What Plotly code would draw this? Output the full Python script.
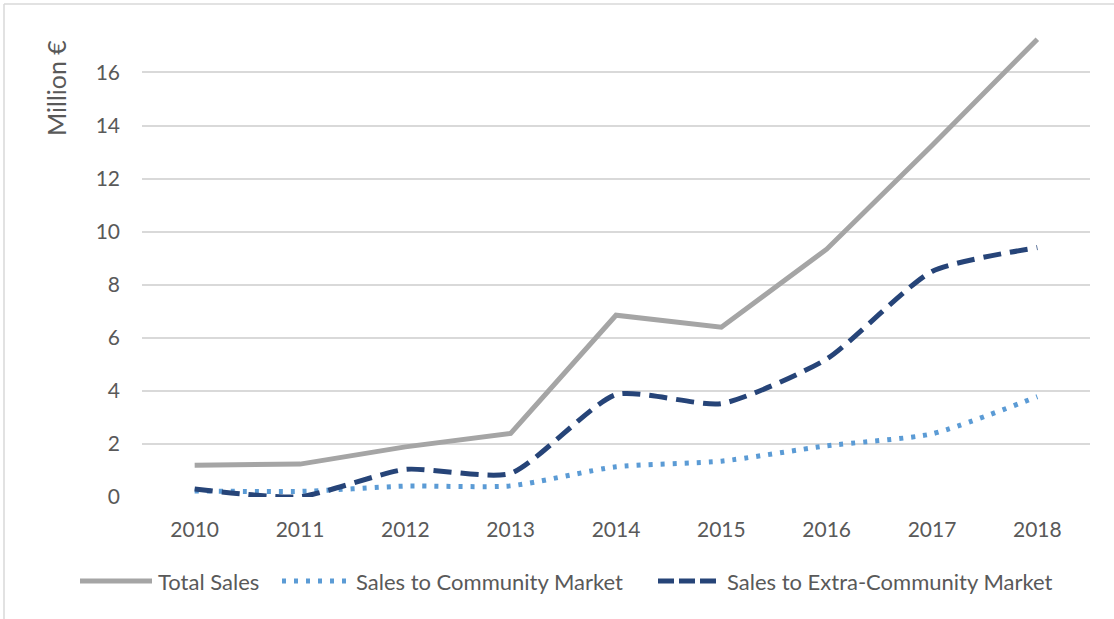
import plotly.graph_objects as go

# Sales figures, million euro
years = ["2010", "2011", "2012", "2013", "2014", "2015", "2016", "2017", "2018"]
total_sales = [1.20, 1.24, 1.89, 2.40, 6.85, 6.40, 9.34, 13.25, 17.25]
community_sales = [0.23, 0.21, 0.41, 0.42, 1.14, 1.35, 1.93, 2.38, 3.78]
extra_community_sales = [0.30, 0.01, 1.04, 0.89, 3.86, 3.52, 5.20, 8.50, 9.40]
y_ticks = [0, 2, 4, 6, 8, 10, 12, 14, 16]

FONT = "Lato"
TEXT_GREY = "#595959"
GRID_GREY = "#D9D9D9"
C_TOTAL = "#A5A5A5"
C_COMM = "#5B9BD5"
C_EXTRA = "#264478"

x_idx = list(range(len(years)))

fig = go.Figure()
fig.add_trace(go.Scatter(
    x=x_idx, y=total_sales, mode="lines", name="Total Sales",
    line=dict(color=C_TOTAL, width=5), showlegend=False, hoverinfo="y"))
fig.add_trace(go.Scatter(
    x=x_idx, y=community_sales, mode="lines", name="Sales to Community Market",
    line=dict(color=C_COMM, width=5, dash="4px,8px", shape="spline", smoothing=0.6),
    showlegend=False, hoverinfo="y"))
fig.add_trace(go.Scatter(
    x=x_idx, y=extra_community_sales, mode="lines", name="Sales to Extra-Community Market",
    line=dict(color=C_EXTRA, width=5, dash="18px,9px", shape="spline", smoothing=0.6),
    showlegend=False, hoverinfo="y"))

# Pixel -> paper coordinate helpers for the plot area (x 142..1090, y 30..497)
def px(x):
    return (x - 142) / (1090 - 142)

def py(y):
    return (497 - y) / (497 - 30)

# Legend drawn below the plot: line sample + label
legend_items = [
    ("Total Sales", C_TOTAL, "solid", 80, 152),
    ("Sales to Community Market", C_COMM, "4px,8px", 282, 350),
    ("Sales to Extra-Community Market", C_EXTRA, "16px,5px", 658, 721),
]
W, H = 1114, 619
shapes = []
annotations = []
legend_y = 581
for label, color, dash, x0, x1 in legend_items:
    shapes.append(dict(
        type="line", xref="paper", yref="paper",
        x0=px(x0), x1=px(x1), y0=py(legend_y), y1=py(legend_y),
        line=dict(color=color, width=5, dash=dash)))
    annotations.append(dict(
        text=label, xref="paper", yref="paper",
        x=px(x1 + 4), y=py(legend_y),
        xanchor="left", yanchor="middle", showarrow=False,
        font=dict(family=FONT, size=22, color=TEXT_GREY)))

# Axis title at the top left
annotations.append(dict(
    text="Million €", xref="paper", yref="paper",
    x=px(56), y=py(88),
    xanchor="center", yanchor="middle", textangle=-90, showarrow=False,
    font=dict(family=FONT, size=25, color=TEXT_GREY)))

# Chart frame (top and left edges)
shapes.append(dict(type="line", xref="paper", yref="paper",
                   x0=px(4), x1=px(1114), y0=py(4), y1=py(4),
                   line=dict(color=GRID_GREY, width=1.5)))
shapes.append(dict(type="line", xref="paper", yref="paper",
                   x0=px(4), x1=px(4), y0=py(4), y1=py(619),
                   line=dict(color=GRID_GREY, width=1.5)))

fig.update_layout(
    width=W, height=H,
    margin=dict(l=142, r=24, t=30, b=122),
    paper_bgcolor="white", plot_bgcolor="white",
    font=dict(family=FONT, color=TEXT_GREY),
    shapes=shapes, annotations=annotations,
    xaxis=dict(
        range=[-0.5, len(years) - 0.5],
        tickmode="array", tickvals=x_idx, ticktext=years,
        showgrid=False, zeroline=False, showline=False, ticks="",
        tickfont=dict(family=FONT, size=21, color=TEXT_GREY),
        ticklabelstandoff=18),
    yaxis=dict(
        range=[0, 17.6],
        tickmode="array", tickvals=y_ticks,
        showgrid=True, gridcolor=GRID_GREY, gridwidth=1.5,
        zeroline=False, showline=False, ticks="",
        tickfont=dict(family=FONT, size=21, color=TEXT_GREY),
        ticklabelstandoff=21),
)

fig.write_html("out.html")
